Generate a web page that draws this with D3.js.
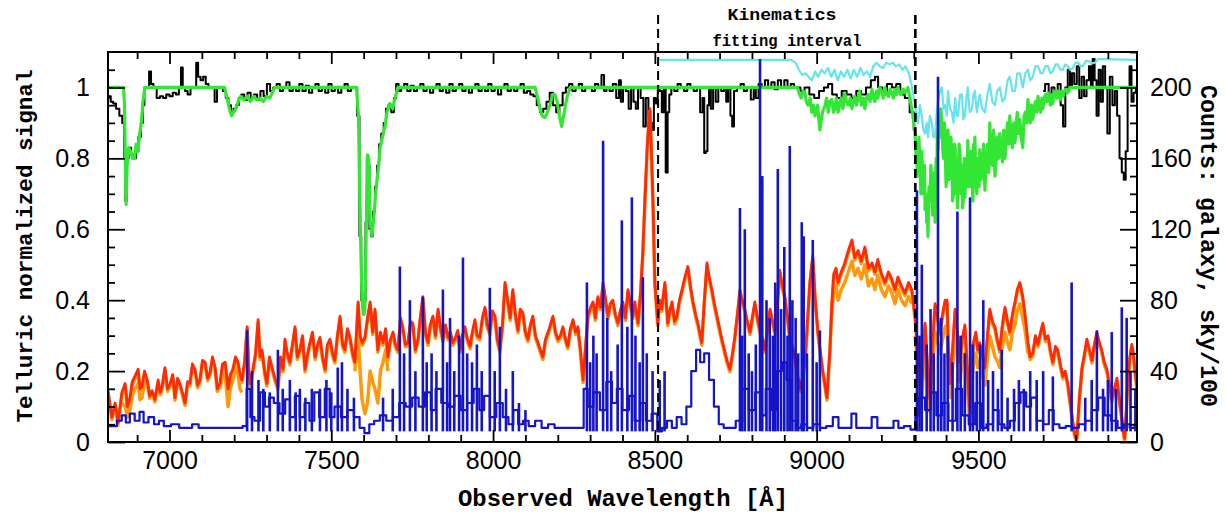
<!DOCTYPE html>
<html>
<head>
<meta charset="utf-8">
<script src="https://cdn.jsdelivr.net/npm/d3@7"></script>
<style>
  body { margin: 0; background: #fff; }
</style>
</head>
<body>
<div id="chart"></div>
<script>
// Telluric correction plot: observed telluric standard (black), telluric model (green),
// galaxy counts (red / orange uncorrected) and sky/100 (blue), kinematics window marked.

const X_TICKS = [7000, 7500, 8000, 8500, 9000, 9500];
const L_TICKS = [0, 0.2, 0.4, 0.6, 0.8, 1];
const R_TICKS = [0, 40, 80, 120, 160, 200];
const FIT_EDGES = [8510, 9305];

// normalized telluric signal, observed (gap where it is hidden under the model)
const TELL_OBS = [
  [6810,0.97],[6815,0.975],[6822,0.96],[6830,0.955],[6840,0.94],[6850,0.92],[6858,0.90],[6862,0.80],
  [6866,0.68],[6870,0.80],[6878,0.83],[6885,0.81],[6893,0.80],[6900,0.82],[6908,0.86],[6915,0.90],
  [6920,0.95],[6925,1.0],[6934,1.0],[6940,1.045],[6946,1.01],[6955,1.0],[6966,0.97],[6975,0.975],
  [6985,0.97],[6995,0.98],[7005,0.975],[7015,0.985],[7025,0.98],[7033,1.0],[7038,1.056],[7044,1.0],
  [7052,0.99],[7060,0.98],[7070,1.0],[7080,1.0],[7085,1.07],[7092,1.03],[7100,1.02],[7108,1.03],
  [7116,1.01],[7125,1.0],[7135,1.0],[7144,0.96],[7150,1.0],[7160,1.0],[7170,0.99],[7178,0.97],
  [7186,0.95],[7194,0.93],[7202,0.94],[7210,0.95],[7218,0.97],[7226,0.98],[7236,0.965],[7246,0.985],
  [7256,0.97],[7266,0.98],[7276,0.965],[7286,0.99],[7296,0.975],[7306,1.01],[7316,0.99],[7326,1.0],
  [7336,1.01],[7346,0.99],[7356,1.0],[7366,1.015],[7376,0.99],[7386,1.0],[7396,0.99],[7406,1.01],
  [7416,0.99],[7426,1.005],[7436,0.985],[7446,1.0],[7456,1.01],[7466,0.99],[7476,1.0],[7486,0.985],
  [7496,1.01],[7506,0.99],[7516,1.0],[7526,0.985],[7536,1.0],[7546,1.01],[7556,0.99],[7566,1.0],
  [7576,1.0],[7584,0.92],[7590,0.58],[7595,0.40],[7600,0.36],[7604,0.40],[7608,0.62],[7612,0.80],
  [7616,0.78],[7620,0.60],[7626,0.58],[7632,0.65],[7638,0.72],[7645,0.78],[7651,0.84],[7658,0.87],
  [7666,0.90],[7672,0.94],[7681,0.95],[7690,0.93],[7697,0.97],[7704,1.01],[7712,0.99],[7720,1.0],
  [7730,1.01],[7740,0.99],[7750,1.005],[7760,0.99],[7770,1.0],[7780,1.01],[7790,0.99],[7800,1.0],
  [7810,0.985],[7820,1.0],[7830,1.01],[7840,0.99],[7850,1.0],[7860,0.985],[7870,1.01],[7880,0.99],
  [7890,1.0],[7900,1.01],[7910,0.99],[7920,1.0],[7930,0.985],[7940,1.0],[7950,1.01],[7960,0.99],
  [7970,1.0],[7980,0.99],[7990,1.01],[8000,0.99],[8010,1.0],[8020,0.98],[8030,1.0],[8040,1.01],
  [8050,0.99],[8060,1.0],[8070,0.99],[8080,1.0],[8090,1.01],[8100,0.985],[8110,0.99],[8120,0.98],
  [8130,0.975],[8140,0.95],[8150,0.93],[8160,0.94],[8170,0.96],[8180,0.985],[8190,0.95],[8200,0.93],
  [8210,0.95],[8220,0.985],[8230,1.0],[8240,1.01],[8250,0.99],[8260,1.0],[8270,1.01],[8280,0.99],
  [8290,1.0],[8300,1.0],[8310,0.99],[8320,1.01],[8330,1.0],[8340,1.035],[8346,0.99],[8355,1.0],
  [8365,0.99],[8375,1.01],[8386,0.97],[8392,1.02],[8398,0.96],[8405,1.0],[8415,0.99],[8423,0.94],
  [8430,1.0],[8438,0.96],[8444,0.94],[8452,1.0],[8460,0.97],[8469,0.89],[8475,0.97],[8485,0.88],
  [8490,0.9],[8494,0.88],[8500,0.97],[8506,0.955],[8512,1.0],[8518,0.99],[8525,0.93],[8530,1.0],
  [8537,0.76],[8542,0.93],[8547,0.98],[8555,1.0],[8565,0.99],[8575,1.01],[8585,1.0],[8595,0.99],
  [8605,1.01],[8615,1.0],[8625,0.99],[8635,1.0],[8645,0.93],[8650,0.97],[8655,0.815],[8660,0.82],
  [8665,0.95],[8670,1.0],[8676,0.94],[8684,1.0],[8692,0.96],[8700,1.0],[8710,0.99],[8718,1.0],
  [8723,0.96],[8730,1.0],[8737,0.92],[8741,0.89],[8748,0.99],[8760,1.0],[8770,1.01],[8780,0.99],
  [8790,1.0],[8803,0.966],[8808,1.0],[8816,0.97],[8825,1.01],[8835,1.0],[8845,1.02],[8855,1.0],
  [8865,1.015],[8875,0.995],[8885,1.02],[8895,1.0],[8905,1.02],[8915,1.0],[8925,1.01],[8935,1.0],
  [8945,1.0],[8955,0.99],[8970,1.0],[8985,0.98],[9000,0.97],[9015,0.99],[9030,1.0],[9041,1.01],
  [9055,0.98],[9070,0.97],[9085,0.99],[9100,0.98],[9115,0.97],[9130,0.99],[9145,0.98],[9160,1.0],
  [9175,1.02],[9185,1.03],[9195,1.0],[9210,0.99],[9225,1.01],[9240,1.0],[9252,1.01],[9265,0.98],
  [9280,0.97],[9295,0.93],[9305,0.88],[9310,null],[9700,0.99],[9712,1.01],[9722,0.98],[9730,1.0],
  [9740,0.99],[9750,1.01],[9758,0.95],[9765,0.89],[9772,1.0],[9780,1.05],[9786,1.0],[9792,1.04],
  [9800,1.01],[9808,1.06],[9815,0.97],[9823,1.03],[9830,0.975],[9838,1.02],[9845,1.06],[9850,1.0],
  [9856,1.08],[9862,1.02],[9868,0.92],[9875,1.05],[9881,0.96],[9888,1.06],[9895,1.0],[9902,0.87],
  [9910,1.03],[9918,0.95],[9925,0.99],[9932,0.92],[9940,0.80],[9946,0.76],[9952,0.74],[9958,0.82],
  [9964,1.0],[9970,1.06],[9976,0.96],[9983,0.985],[9990,1.0]
];

// telluric model
const TELL_MODEL = [
  [6810,1],[6858,1],[6861,0.95],[6863,0.82],[6866,0.67],[6869,0.78],[6874,0.83],[6880,0.82],
  [6886,0.80],[6892,0.80],[6897,0.84],[6902,0.82],[6908,0.87],[6913,0.90],[6918,0.96],[6924,1],
  [7170,1],[7178,0.97],[7185,0.94],[7192,0.92],[7198,0.93],[7205,0.94],[7212,0.96],[7220,0.975],
  [7230,0.965],[7240,0.975],[7250,0.96],[7260,0.975],[7270,0.965],[7280,0.97],[7290,0.96],[7300,0.975],
  [7310,0.97],[7320,0.99],[7326,1],
  [7578,1],[7584,0.92],[7590,0.6],[7595,0.40],[7600,0.36],[7604,0.38],[7608,0.6],[7612,0.81],
  [7616,0.80],[7620,0.62],[7626,0.58],[7632,0.64],[7638,0.71],[7645,0.77],[7651,0.83],[7658,0.86],
  [7666,0.89],[7672,0.93],[7681,0.955],[7690,0.94],[7697,0.97],[7706,1],
  [8130,1],[8138,0.97],[8145,0.94],[8152,0.92],[8160,0.915],[8168,0.93],[8176,0.95],[8184,0.98],
  [8191,0.98],[8198,0.96],[8205,0.92],[8212,0.89],[8220,0.93],[8228,0.97],[8238,1],
  [8940,1],[8952,0.97],[8958,0.99],[8964,0.985],[8968,0.96],[8973,0.95],[8980,0.97],[8985,0.93],
  [8990,0.95],[8995,0.92],[9003,0.95],[9010,0.88],[9018,0.93],[9026,0.95],[9031,0.97],[9036,0.93],
  [9041,0.96],[9047,0.966],[9052,0.93],[9056,0.94],[9061,0.97],[9066,0.93],[9071,0.95],[9076,0.97],
  [9081,0.94],[9087,0.985],[9092,0.96],[9098,0.95],[9104,0.97],[9109,0.94],[9113,0.96],[9118,0.975],
  [9123,0.95],[9128,0.97],[9133,0.99],[9138,0.95],[9144,0.97],[9149,0.94],[9154,0.97],[9160,0.98],
  [9165,0.96],[9171,0.995],[9176,0.97],[9180,0.96],[9185,0.99],[9189,0.97],[9195,1.0],[9200,0.99],
  [9206,0.97],[9211,1.0],[9216,0.98],[9222,0.975],[9227,0.995],[9232,0.985],[9237,0.97],[9242,0.995],
  [9247,0.98],[9251,1.0],[9257,0.985],[9262,0.98],[9268,0.995],[9273,0.985],[9278,0.99],[9282,1.0],
  [9288,0.97],[9294,0.94],[9299,0.91],[9304,0.87],[9308,0.80],[9313,0.75],[9316,0.86],[9319,0.80],
  [9322,0.70],[9325,0.82],[9328,0.74],[9330,0.70],[9333,0.78],[9335,0.655],[9338,0.70],[9340,0.62],
  [9342,0.66],[9344,0.58],[9347,0.72],[9350,0.68],[9353,0.78],[9356,0.73],[9358,0.64],[9361,0.65],
  [9364,0.76],[9366,0.62],[9369,0.80],[9371,0.72],[9373,0.88],[9375,0.825],[9378,0.92],[9381,0.86],
  [9384,0.94],[9387,0.90],[9390,0.82],[9392,0.80],[9395,0.90],[9397,0.845],[9400,0.72],[9402,0.76],
  [9404,0.86],[9406,0.88],[9409,0.74],[9412,0.78],[9415,0.86],[9418,0.80],[9420,0.68],[9423,0.70],
  [9426,0.84],[9428,0.83],[9431,0.70],[9433,0.74],[9435,0.66],[9437,0.71],[9440,0.84],[9443,0.82],
  [9446,0.70],[9449,0.78],[9451,0.66],[9453,0.68],[9456,0.80],[9458,0.69],[9461,0.76],[9463,0.80],
  [9465,0.72],[9467,0.85],[9470,0.76],[9473,0.72],[9476,0.82],[9480,0.74],[9483,0.68],[9485,0.84],
  [9487,0.78],[9489,0.86],[9492,0.74],[9495,0.70],[9498,0.80],[9500,0.78],[9502,0.72],[9504,0.825],
  [9508,0.74],[9512,0.76],[9516,0.84],[9520,0.71],[9524,0.78],[9528,0.84],[9532,0.76],[9535,0.90],
  [9539,0.82],[9543,0.78],[9547,0.88],[9551,0.75],[9555,0.80],[9558,0.86],[9562,0.80],[9566,0.87],
  [9570,0.82],[9574,0.79],[9578,0.88],[9582,0.80],[9586,0.86],[9590,0.90],[9594,0.84],[9597,0.92],
  [9601,0.86],[9605,0.83],[9609,0.90],[9613,0.845],[9617,0.90],[9620,0.93],[9624,0.87],[9628,0.91],
  [9632,0.86],[9637,0.83],[9641,0.92],[9645,0.93],[9649,0.90],[9653,0.966],[9657,0.92],[9660,0.90],
  [9664,0.95],[9668,0.91],[9672,0.94],[9676,0.96],[9680,0.93],[9684,0.975],[9688,0.95],[9692,0.93],
  [9696,0.97],[9699,0.94],[9703,0.97],[9707,0.98],[9711,0.96],[9715,0.985],[9719,0.97],[9722,0.95],
  [9726,0.98],[9730,0.955],[9734,0.985],[9738,0.99],[9742,0.97],[9745,0.99],[9749,0.985],[9753,0.965],
  [9757,0.99],[9761,0.975],[9765,0.99],[9770,0.995],[9776,0.985],[9783,1.0],[9990,1.0]
];

// cyan curve across the fitting interval and beyond
const TELL_FIT = [
  [8510,1.078],[8920,1.078],[8935,1.07],[8945,1.05],[8955,1.035],[8965,1.04],[8975,1.03],[8985,1.02],
  [8995,1.045],[9005,1.03],[9015,1.05],[9025,1.04],[9035,1.055],[9045,1.03],[9055,1.05],[9065,1.02],
  [9075,1.045],[9085,1.03],[9095,1.05],[9105,1.025],[9115,1.05],[9125,1.03],[9135,1.055],[9145,1.035],
  [9155,1.045],[9165,1.03],[9175,1.06],[9185,1.07],[9195,1.06],[9205,1.055],[9215,1.07],[9225,1.065],
  [9235,1.07],[9245,1.06],[9255,1.065],[9265,1.05],[9275,1.06],[9285,1.04],[9295,1.0],[9304,0.95],
  [9309,0.92],[9313,0.90],[9319,0.95],[9325,0.92],[9330,0.88],[9335,0.87],[9340,0.90],[9344,0.86],
  [9350,0.92],[9356,0.90],[9361,0.86],[9366,0.86],[9371,0.93],[9375,0.96],[9381,0.99],[9387,1.0],
  [9392,0.94],[9397,0.95],[9402,0.92],[9406,0.99],[9412,0.94],[9418,0.93],[9423,0.90],[9428,0.97],
  [9433,0.92],[9437,0.92],[9443,0.98],[9449,0.98],[9453,0.91],[9458,0.92],[9463,0.97],[9467,1.0],
  [9473,0.93],[9480,0.94],[9485,0.98],[9489,0.99],[9495,0.93],[9500,0.96],[9504,0.98],[9512,0.94],
  [9520,0.93],[9528,0.98],[9535,1.01],[9543,0.96],[9551,0.95],[9558,0.99],[9566,1.0],[9574,0.96],
  [9582,0.97],[9590,1.02],[9597,1.03],[9605,0.99],[9613,0.99],[9620,1.04],[9628,1.04],[9637,1.0],
  [9645,1.04],[9653,1.05],[9660,1.02],[9668,1.03],[9676,1.06],[9684,1.06],[9692,1.04],[9699,1.04],
  [9707,1.06],[9715,1.06],[9722,1.04],[9730,1.045],[9738,1.065],[9745,1.065],[9753,1.05],[9761,1.05],
  [9768,1.065],[9776,1.06],[9784,1.05],[9792,1.055],[9800,1.07],[9808,1.07],[9815,1.06],[9823,1.06],
  [9832,1.075],[9840,1.075],[9850,1.068],[9860,1.07],[9870,1.08],[9880,1.08],[9990,1.078]
];

// galaxy counts (right axis)
const GALAXY = [
  [6810,29],[6822,14],[6832,22],[6841,11],[6853,28],[6863,33],[6870,20],[6878,25],[6885,34],[6893,37],
  [6903,41],[6909,30],[6915,31],[6923,40],[6931,35],[6939,26],[6946,29],[6955,24],[6965,35],[6971,28],
  [6977,31],[6986,42],[6994,30],[7002,33],[7010,38],[7017,25],[7025,36],[7032,33],[7040,28],[7048,22],
  [7056,34],[7063,33],[7071,44],[7079,41],[7087,32],[7094,35],[7102,46],[7110,45],[7118,36],[7125,39],
  [7133,48],[7141,42],[7148,30],[7156,33],[7164,44],[7172,45],[7181,30],[7188,38],[7196,41],[7204,48],
  [7212,45],[7218,38],[7224,35],[7232,45],[7240,65],[7245,40],[7249,33],[7258,41],[7266,50],[7274,69],
  [7280,48],[7286,52],[7294,40],[7301,33],[7309,48],[7317,42],[7326,36],[7335,31],[7343,48],[7351,41],
  [7357,58],[7364,50],[7372,45],[7380,55],[7388,65],[7395,48],[7403,52],[7411,60],[7419,41],[7427,50],
  [7434,56],[7442,62],[7450,48],[7458,55],[7465,59],[7473,48],[7481,41],[7488,55],[7496,58],[7504,50],
  [7511,46],[7519,60],[7527,71],[7535,55],[7542,52],[7550,64],[7558,59],[7566,50],[7573,45],[7583,79],
  [7589,60],[7595,56],[7604,59],[7612,70],[7620,79],[7628,62],[7635,75],[7644,52],[7652,62],[7660,56],
  [7668,64],[7675,48],[7683,58],[7691,62],[7698,55],[7706,52],[7714,70],[7721,65],[7729,55],[7737,56],
  [7745,68],[7752,67],[7760,52],[7768,58],[7775,70],[7783,82],[7791,62],[7799,56],[7806,66],[7814,71],
  [7822,60],[7830,75],[7838,64],[7845,58],[7853,66],[7861,59],[7868,62],[7876,56],[7882,58],[7891,63],
  [7898,52],[7905,60],[7913,65],[7921,58],[7929,54],[7936,62],[7944,69],[7951,60],[7959,59],[7967,70],
  [7975,76],[7982,66],[7990,62],[7998,74],[8006,71],[8013,58],[8021,52],[8029,66],[8037,90],[8046,79],
  [8053,70],[8061,86],[8069,72],[8077,63],[8084,75],[8092,73],[8100,62],[8108,58],[8115,66],[8123,71],
  [8131,60],[8139,56],[8146,52],[8154,48],[8162,58],[8170,62],[8177,66],[8185,71],[8193,62],[8201,58],
  [8208,60],[8216,65],[8224,58],[8231,54],[8239,64],[8247,69],[8255,62],[8262,65],[8270,52],[8278,35],
  [8285,52],[8293,71],[8301,76],[8309,79],[8316,70],[8324,82],[8332,76],[8340,90],[8348,80],[8355,71],
  [8362,78],[8370,80],[8378,72],[8386,67],[8393,74],[8401,79],[8409,70],[8417,86],[8424,78],[8432,71],
  [8438,79],[8448,67],[8456,85],[8463,108],[8470,140],[8476,165],[8481,180],[8485,188],[8490,160],[8494,137],
  [8500,90],[8509,67],[8515,80],[8521,75],[8531,90],[8540,67],[8546,74],[8553,79],[8561,68],[8568,71],
  [8576,80],[8584,86],[8593,93],[8602,99],[8610,88],[8618,79],[8626,72],[8633,67],[8645,56],[8653,80],
  [8661,101],[8669,92],[8676,86],[8684,78],[8692,71],[8700,64],[8707,58],[8715,52],[8723,46],[8732,41],
  [8740,50],[8747,59],[8755,72],[8763,86],[8770,80],[8778,75],[8786,68],[8794,62],[8801,70],[8809,79],
  [8817,70],[8825,63],[8833,58],[8840,52],[8848,64],[8856,75],[8864,68],[8871,62],[8879,80],[8886,97],
  [8894,88],[8902,82],[8910,70],[8917,59],[8925,54],[8933,48],[8941,38],[8948,30],[8956,36],[8964,45],
  [8971,66],[8979,90],[8988,105],[8995,82],[9004,62],[9012,50],[9019,40],[9026,32],[9032,25],[9036,38],
  [9041,52],[9047,78],[9053,95],[9060,98],[9066,90],[9076,96],[9087,101],[9098,108],[9109,114],[9118,104],
  [9128,108],[9138,102],[9149,110],[9160,98],[9171,101],[9180,96],[9189,103],[9200,95],[9211,90],[9222,96],
  [9232,92],[9242,86],[9251,93],[9262,88],[9273,84],[9284,90],[9294,86],[9304,71],[9313,52],[9319,40],
  [9325,30],[9330,50],[9335,67],[9342,45],[9350,24],[9358,55],[9366,78],[9374,70],[9381,62],[9389,72],
  [9397,80],[9403,80],[9407,55],[9412,33],[9420,52],[9428,75],[9436,60],[9443,45],[9450,58],[9458,66],
  [9466,40],[9474,14],[9478,30],[9483,55],[9492,62],[9498,52],[9504,56],[9512,48],[9520,42],[9528,60],
  [9535,75],[9543,68],[9551,65],[9558,58],[9566,52],[9574,66],[9582,76],[9590,68],[9597,62],[9605,72],
  [9613,79],[9620,86],[9628,90],[9637,82],[9645,70],[9653,56],[9660,48],[9668,50],[9676,60],[9684,55],
  [9692,62],[9699,67],[9707,58],[9715,60],[9722,52],[9730,45],[9738,54],[9745,52],[9753,44],[9761,37],
  [9768,40],[9776,33],[9784,22],[9792,11],[9798,4],[9804,2],[9812,25],[9820,42],[9828,50],[9835,58],
  [9843,52],[9851,46],[9858,55],[9866,62],[9874,56],[9881,52],[9889,45],[9897,41],[9905,32],[9912,24],
  [9920,30],[9928,36],[9935,25],[9943,14],[9948,6],[9952,2],[9957,18],[9961,33],[9968,48],[9974,55],
  [9979,50],[9983,42],[9990,30]
];

// uncorrected galaxy, only where it departs from the corrected one
const GALAXY_RAW = [
  [[6853,22],[6863,20],[6870,14],[6878,18],[6885,26],[6893,30],[6903,33],[6909,24],[6915,25],[6923,34],[6931,32]],
  [[7156,30],[7164,38],[7172,38],[7181,20],[7188,30],[7196,35],[7204,42],[7212,38],[7218,30],[7224,28]],
  [[7573,40],[7583,62],[7589,40],[7595,24],[7604,16],[7612,22],[7620,40],[7628,34],[7635,30],[7644,22],
   [7652,40],[7660,45],[7668,52],[7675,40]],
  [[9047,72],[9053,86],[9060,88],[9066,80],[9076,86],[9087,90],[9098,96],[9109,102],[9118,94],[9128,98],
   [9138,92],[9149,100],[9160,88],[9171,92],[9180,86],[9189,94],[9200,86],[9211,82],[9222,88],[9232,84],
   [9242,78],[9251,86],[9262,80],[9273,77],[9284,82],[9294,78]],
  [[9304,60],[9313,44],[9319,32],[9325,24],[9330,40],[9335,54],[9342,36],[9350,17],[9358,44],[9366,62],
   [9374,56],[9381,50],[9389,58],[9397,65],[9403,66],[9407,44],[9412,25],[9420,42],[9428,60],[9436,48],
   [9443,34],[9450,46],[9458,50],[9466,30],[9474,9],[9478,22],[9483,42],[9492,50],[9498,42],[9504,45],
   [9512,38],[9520,32],[9528,48],[9535,60],[9543,54],[9551,48],[9558,46],[9566,42],[9574,54],[9582,62],
   [9590,56],[9597,52],[9605,62],[9613,66],[9620,74],[9628,78],[9637,70],[9645,62],[9653,50]]
];

// sky/100 continuum (right axis)
const SKY_CONT = [
  [6810,9],[6830,9],[6845,12],[6860,15],[6870,11],[6885,16],[6900,12],[6915,17],[6925,11],[6945,14],
  [6960,10],[6975,12],[6990,9],[7020,10],[7040,8],[7060,8],[7080,10],[7100,8],[7140,8],[7180,8],
  [7220,8],[7232,9],[7245,30],[7255,14],[7270,12],[7290,28],[7300,20],[7315,25],[7330,22],[7350,16],
  [7365,24],[7380,14],[7395,26],[7410,14],[7425,22],[7440,12],[7455,28],[7470,14],[7490,30],[7500,14],
  [7520,20],[7540,14],[7560,18],[7580,14],[7595,8],[7610,5],[7625,10],[7640,12],[7660,15],[7680,12],
  [7700,14],[7720,22],[7740,20],[7760,25],[7780,20],[7800,28],[7815,18],[7830,30],[7850,22],[7870,20],
  [7890,26],[7910,18],[7930,22],[7950,30],[7965,18],[7980,26],[8000,14],[8020,22],[8040,14],[8055,10],
  [8070,18],[8085,10],[8100,12],[8120,9],[8140,12],[8160,8],[8180,10],[8200,8],[8230,8],[8260,8],
  [8275,8],[8285,30],[8300,20],[8320,28],[8340,18],[8360,34],[8375,22],[8390,30],[8410,18],[8430,26],
  [8445,12],[8465,22],[8480,12],[8500,16],[8515,6],[8530,8],[8545,12],[8560,8],[8575,14],[8590,10],
  [8605,20],[8620,40],[8635,52],[8645,45],[8660,50],[8675,35],[8690,20],[8705,10],[8720,8],[8740,8],
  [8760,12],[8780,30],[8800,18],[8820,28],[8835,15],[8850,30],[8870,18],[8885,40],[8900,45],[8915,35],
  [8930,12],[8945,8],[8960,10],[8980,8],[9000,10],[9020,8],[9040,9],[9060,14],[9075,8],[9100,8],
  [9115,16],[9130,8],[9160,8],[9180,14],[9195,8],[9230,8],[9245,12],[9260,8],[9280,9],[9300,7],
  [9310,15],[9325,25],[9345,18],[9360,28],[9380,15],[9395,22],[9420,12],[9440,30],[9460,15],[9480,10],
  [9500,22],[9515,8],[9535,10],[9555,18],[9570,10],[9590,8],[9605,12],[9620,22],[9640,28],[9655,20],
  [9670,25],[9690,12],[9710,10],[9725,18],[9740,10],[9760,8],[9780,9],[9800,8],[9820,10],[9840,12],
  [9860,18],[9880,25],[9900,15],[9920,12],[9940,8],[9960,10],[9975,8],[9990,10]
];

// sky emission line peaks (wavelength, counts)
const SKY_LINES = [
  [7240,63],[7255,40],[7275,35],[7290,30],[7310,28],[7335,52],[7350,30],[7372,35],[7390,28],[7403,30],
  [7420,25],[7440,30],[7465,30],[7485,35],[7500,28],[7520,42],[7533,45],[7550,30],[7570,25],[7660,25],
  [7690,30],[7712,99],[7725,50],[7743,80],[7760,40],[7783,82],[7795,45],[7810,50],[7825,40],[7845,86],
  [7858,45],[7867,70],[7880,40],[7895,60],[7907,104],[7920,50],[7935,45],[7950,55],[7965,40],[7990,87],
  [8005,40],[8021,65],[8040,30],[8061,40],[8080,22],[8100,18],
  [8290,90],[8300,45],[8310,60],[8320,50],[8340,170],[8353,70],[8365,40],[8385,55],[8398,125],[8415,65],
  [8429,138],[8440,60],[8453,45],[8463,93],[8475,50],[8493,40],[8515,35],[8530,40],
  [8763,132],[8770,60],[8778,120],[8790,50],[8800,40],[8812,55],[8825,216],[8832,150],[8845,80],[8855,70],
  [8865,60],[8872,90],[8880,154],[8890,75],[8900,110],[8910,60],[8917,167],[8925,80],[8935,70],[8943,50],
  [8954,124],[8960,116],[8970,50],[8988,114],[9000,45],[9010,63],
  [9310,142],[9318,60],[9325,100],[9340,55],[9352,75],[9362,50],[9375,206],[9385,70],[9395,50],[9405,60],
  [9420,45],[9435,130],[9445,60],[9458,50],[9474,138],[9483,55],[9495,40],[9505,55],[9515,80],[9530,35],
  [9545,40],[9560,30],[9572,52],[9590,25],[9610,30],[9625,35],[9640,30],[9660,40],[9680,35],[9700,40],
  [9730,37],[9788,90],[9830,25],[9850,35],[9866,63],[9885,30],[9900,35],[9912,62],[9925,30],[9943,76],
  [9958,70],[9970,40],[9985,30]
];

const W = 1225, H = 514;
const PLOT = { left: 108, right: 1137, top: 52, bottom: 442 };
const TICK_FONT = 'Liberation Sans, Arial, sans-serif';
const LABEL_FONT = 'Liberation Mono, Courier New, monospace';

const svg = d3.select('#chart').append('svg')
  .attr('width', W)
  .attr('height', H);

const x = d3.scaleLinear().domain([6810, 9990]).range([PLOT.left, PLOT.right]);
const yL = d3.scaleLinear().domain([0, 1.1]).range([PLOT.bottom, PLOT.top]);
const yR = d3.scaleLinear().domain([0, 220]).range([PLOT.bottom, PLOT.top]);

svg.append('clipPath').attr('id', 'plot-clip')
  .append('rect')
  .attr('x', PLOT.left).attr('y', PLOT.top)
  .attr('width', PLOT.right - PLOT.left).attr('height', PLOT.bottom - PLOT.top);

const plot = svg.append('g').attr('clip-path', 'url(#plot-clip)');

const lineL = d3.line().defined(d => d[1] != null).x(d => x(d[0])).y(d => yL(d[1]));
const stepL = d3.line().defined(d => d[1] != null).x(d => x(d[0])).y(d => yL(d[1])).curve(d3.curveStep);
const lineR = d3.line().x(d => x(d[0])).y(d => yR(d[1]));
const stepR = d3.line().x(d => x(d[0])).y(d => yR(d[1])).curve(d3.curveStep);

function drawPath(data, gen, colour, width, shift = 0) {
  plot.append('path')
    .datum(data)
    .attr('d', gen)
    .attr('transform', shift ? `translate(0,${shift})` : null)
    .attr('fill', 'none')
    .attr('stroke', colour)
    .attr('stroke-width', width)
    .attr('stroke-linejoin', 'round');
}

// telluric curves
drawPath(TELL_OBS, stepL, '#000000', 2);
drawPath(TELL_MODEL, lineL, '#33e633', 3.2);
drawPath(TELL_FIT, lineL, '#66e4ee', 2.2);

// galaxy: orange fringe under the red trace, plus the uncorrected dips
drawPath(GALAXY, lineR, '#ff9a10', 3.5, 2.5);
for (const seg of GALAXY_RAW) drawPath(seg, lineR, '#ff9a10', 3.5);
drawPath(GALAXY, lineR, '#ff2a0a', 2.8);

// sky
drawPath(SKY_CONT, stepR, '#1414c8', 2.2);
plot.selectAll('line.sky')
  .data(SKY_LINES)
  .join('line')
  .attr('class', 'sky')
  .attr('x1', d => x(d[0])).attr('x2', d => x(d[0]))
  .attr('y1', yR(6)).attr('y2', d => yR(d[1]))
  .attr('stroke', '#1414c8')
  .attr('stroke-width', 2.6);

// axes
const X_MINOR = d3.range(6900, 9991, 100).filter(v => !X_TICKS.includes(v));
const L_MINOR = d3.range(1, 22).map(i => +(i * 0.05).toFixed(2)).filter(v => !L_TICKS.includes(v));
const R_MINOR = d3.range(10, 221, 10).filter(v => !R_TICKS.includes(v));

function styleAxis(g) {
  g.select('.domain').remove();
  g.selectAll('line').attr('stroke', '#000').attr('stroke-width', 1.8);
  g.selectAll('text')
    .attr('font-family', TICK_FONT)
    .attr('font-size', 25)
    .attr('fill', '#000');
}

svg.append('g').attr('transform', `translate(0,${PLOT.bottom})`)
  .call(d3.axisBottom(x).tickValues(X_TICKS).tickSizeInner(-12).tickSizeOuter(0).tickPadding(9).tickFormat(d3.format('d')))
  .call(styleAxis);
svg.append('g').attr('transform', `translate(0,${PLOT.bottom})`)
  .call(d3.axisBottom(x).tickValues(X_MINOR).tickSizeInner(-7).tickSizeOuter(0).tickFormat(''))
  .call(styleAxis);
svg.append('g').attr('transform', `translate(0,${PLOT.top})`)
  .call(d3.axisTop(x).tickValues(X_TICKS).tickSizeInner(-12).tickSizeOuter(0).tickFormat(''))
  .call(styleAxis);
svg.append('g').attr('transform', `translate(0,${PLOT.top})`)
  .call(d3.axisTop(x).tickValues(X_MINOR).tickSizeInner(-7).tickSizeOuter(0).tickFormat(''))
  .call(styleAxis);

svg.append('g').attr('transform', `translate(${PLOT.left},0)`)
  .call(d3.axisLeft(yL).tickValues(L_TICKS).tickSizeInner(-17).tickSizeOuter(0).tickPadding(18).tickFormat(d3.format('~g')))
  .call(styleAxis);
svg.append('g').attr('transform', `translate(${PLOT.left},0)`)
  .call(d3.axisLeft(yL).tickValues(L_MINOR).tickSizeInner(-7).tickSizeOuter(0).tickFormat(''))
  .call(styleAxis);

svg.append('g').attr('transform', `translate(${PLOT.right},0)`)
  .call(d3.axisRight(yR).tickValues(R_TICKS).tickSizeInner(-17).tickSizeOuter(0).tickPadding(13).tickFormat(d3.format('d')))
  .call(styleAxis);
svg.append('g').attr('transform', `translate(${PLOT.right},0)`)
  .call(d3.axisRight(yR).tickValues(R_MINOR).tickSizeInner(-7).tickSizeOuter(0).tickFormat(''))
  .call(styleAxis);

// frame
svg.append('rect')
  .attr('x', PLOT.left).attr('y', PLOT.top)
  .attr('width', PLOT.right - PLOT.left).attr('height', PLOT.bottom - PLOT.top)
  .attr('fill', 'none').attr('stroke', '#000').attr('stroke-width', 2);

// fitting interval edges
svg.selectAll('line.edge')
  .data(FIT_EDGES)
  .join('line')
  .attr('class', 'edge')
  .attr('x1', d => x(d)).attr('x2', d => x(d))
  .attr('y1', 15).attr('y2', PLOT.bottom)
  .attr('stroke', '#000')
  .attr('stroke-width', (d, i) => i ? 2.6 : 2)
  .attr('stroke-dasharray', '9,5');

// labels
function label(text, tx, ty, rot, size, len) {
  svg.append('text')
    .attr('transform', `translate(${tx},${ty}) rotate(${rot})`)
    .attr('text-anchor', 'middle')
    .attr('font-family', LABEL_FONT)
    .attr('font-weight', 'bold')
    .attr('font-size', size)
    .attr('textLength', len)
    .attr('lengthAdjust', 'spacingAndGlyphs')
    .attr('fill', '#000')
    .text(text);
}

label('Telluric normalized signal', 32, 246, -90, 22, 353);
label('Counts: galaxy, sky/100', 1201, 246, 90, 23, 322);
label('Observed Wavelength [Å]', 623, 506, 0, 24, 330);
label('Kinematics', 782, 20, 0, 17, 109);
label('fitting interval', 787, 46, 0, 17, 149);
</script>
</body>
</html>
